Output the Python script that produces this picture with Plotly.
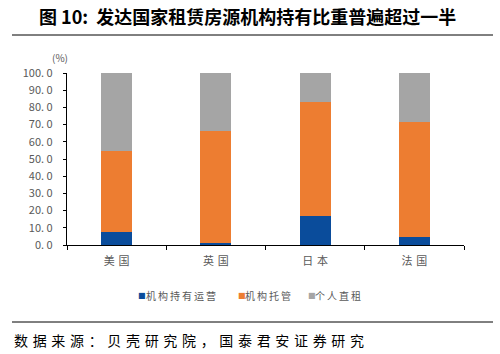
import plotly.graph_objects as go

categories = ["美国", "英国", "日本", "法国"]
series_names = ["机构持有运营", "机构托管", "个人直租"]
held = [7.8, 0.9, 16.8, 4.6]
managed = [46.9, 65.1, 66.2, 66.8]
direct = [45.3, 34.0, 17.0, 28.6]
colors = ["#0A4C9B", "#ED7D31", "#A5A5A5"]
ytick_vals = [0, 10, 20, 30, 40, 50, 60, 70, 80, 90, 100]
ytick_text = ["0. 0", "10. 0", "20. 0", "30. 0", "40. 0", "50. 0", "60. 0", "70. 0", "80. 0", "90. 0", "100. 0"]

W, H = 500, 354
L, R, T, B = 67, 36, 73, 109
PW, PH = W - L - R, H - T - B

def px(x):
    return (x - L) / PW

def py(y):
    return (H - B - y) / PH

def spaced(s, sp="\u2006"):
    return sp.join(list(s))

FONT = "Noto Sans CJK SC"
fig = go.Figure()
for name, vals, c in zip(series_names, [held, managed, direct], colors):
    fig.add_trace(go.Bar(x=categories, y=vals, name=name, showlegend=False,
                         marker=dict(color=c, line=dict(width=0))))

fig.update_layout(
    width=W, height=H, barmode="stack", bargap=0.69,
    margin=dict(l=L, r=R, t=T, b=B),
    paper_bgcolor="white", plot_bgcolor="white",
    font=dict(family=FONT, size=11, color="#595959"),
    xaxis=dict(showline=True, linecolor="black", linewidth=1.2, ticks="outside",
               tickson="boundaries", ticklen=4, tickcolor="black",
               tickvals=categories, ticktext=[spaced(c, "\u2004") for c in categories],
               ticklabelstandoff=6,
               tickfont=dict(size=11, color="#595959"), showgrid=False),
    yaxis=dict(range=[0, 100], tickvals=ytick_vals, ticktext=ytick_text,
               showline=True, linecolor="black", linewidth=1.2, ticks="outside",
               ticklen=3, tickcolor="black", showgrid=False, zeroline=False,
               ticklabelstandoff=8,
               tickfont=dict(size=11, color="#595959")),
)

fig.add_annotation(text="<b>图 10:  发达国家租赁房源机构持有比重普遍超过一半</b>",
                   xref="paper", yref="paper", x=px(37), y=py(16), xanchor="left", yanchor="middle",
                   showarrow=False, font=dict(family=FONT, size=18, color="black"))
fig.add_annotation(text="(%)", xref="paper", yref="paper", x=px(60), y=py(57),
                   xanchor="center", yanchor="middle", showarrow=False,
                   font=dict(size=10, color="#595959"))
fig.add_annotation(text=spaced("数据来源：贝壳研究院，国泰君安证券研究", "\u2004"),
                   xref="paper", yref="paper", x=px(12), y=py(340), xanchor="left", yanchor="middle",
                   showarrow=False, font=dict(family=FONT, size=14, color="black"))
fig.add_shape(type="line", xref="paper", yref="paper", x0=px(12), x1=px(493), y0=py(35), y1=py(35),
              line=dict(color="black", width=1))
fig.add_shape(type="line", xref="paper", yref="paper", x0=px(12), x1=px(493), y0=py(322), y1=py(322),
              line=dict(color="black", width=1))

# legend built from squares + text
leg_sq_x = [136, 236, 306]
leg_tx_x = [144, 243, 313]
for name, c, sx, tx in zip(series_names, colors, leg_sq_x, leg_tx_x):
    fig.add_annotation(text="■", xref="paper", yref="paper", x=px(sx), y=py(295),
                       xanchor="left", yanchor="middle", showarrow=False,
                       font=dict(family="DejaVu Sans", size=8, color=c))
    fig.add_annotation(text=spaced(name, "\u2009"), xref="paper", yref="paper", x=px(tx), y=py(295),
                       xanchor="left", yanchor="middle", showarrow=False,
                       font=dict(family=FONT, size=10, color="#595959"))

fig.write_html("out.html")
